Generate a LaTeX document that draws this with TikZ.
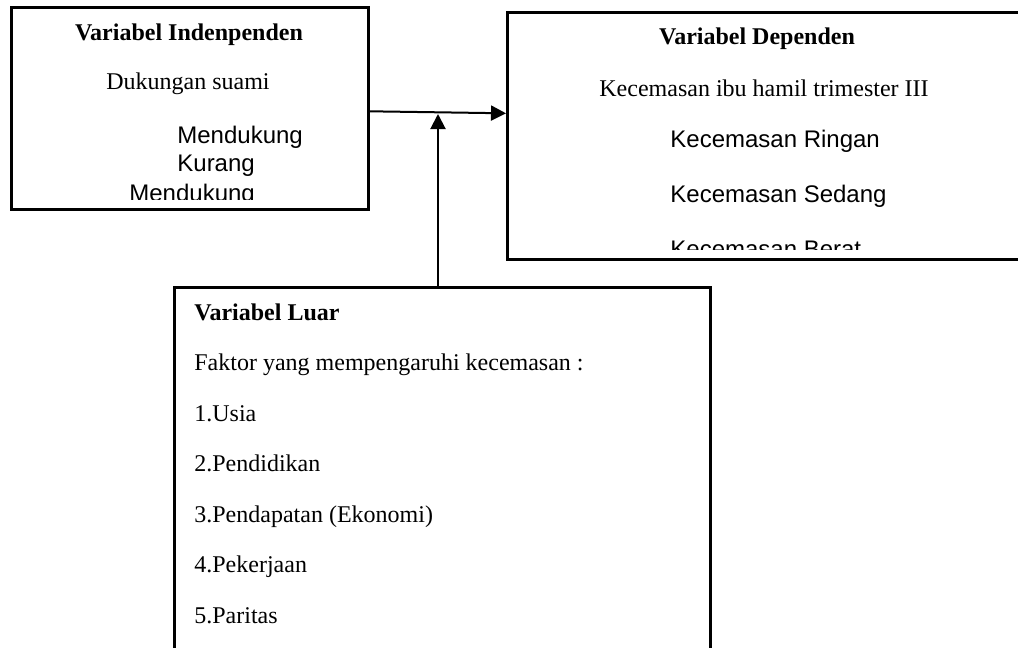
\documentclass[tikz,border=0pt]{standalone}
\usepackage{fontspec}
\setmainfont{Liberation Serif}
\setsansfont{Liberation Sans}
\usetikzlibrary{positioning,arrows.meta}

\begin{document}
\begin{tikzpicture}[x=0.5pt, y=-0.5pt,
  every node/.style={font=\fontsize{12}{14}\selectfont},
  box/.style={draw, line width=1.3pt, rectangle, inner sep=0pt, anchor=north west},
  head/.style={font=\fontsize{12}{14}\selectfont\bfseries, anchor=base, inner sep=0pt},
  txt/.style={anchor=base, inner sep=0pt},
  sanstxt/.style={font=\fontsize{12}{14}\selectfont\sffamily, anchor=base west, inner sep=0pt},
  link/.style={line width=1pt, -{Triangle[length=7.5pt, width=7.5pt]}}]
\clip (0,0) rectangle (1018,648);
% the three boxes
\node[box, minimum width=178.5pt, minimum height=101pt] (indep) at (10,6) {};
\node[box, minimum width=300pt, minimum height=123.5pt] (dep) at (506,11) {};
\node[box, minimum width=268pt, minimum height=210pt] (luar) at (173,286) {};
% variabel independen
\node[head] (indephead) at (189,40) {Variabel Indenpenden};
\node[txt] (suami) at (188,90) {Dukungan suami};
\node[sanstxt] (dukung) at (177,143) {Mendukung};
\node[sanstxt] (kurang) at (177,171) {Kurang};
\begin{scope}
  \clip (indep.north west) rectangle ([yshift=5.5pt]indep.south east);
  \node[sanstxt] (kurangdukung) at (129,201) {Mendukung};
\end{scope}
% variabel dependen
\node[head] (dephead) at (757,44) {Variabel Dependen};
\node[txt] (ibu) at (764,96) {Kecemasan ibu hamil trimester III};
\node[sanstxt] (ringan) at (670,147) {Kecemasan Ringan};
\node[sanstxt] (sedang) at (670,202) {Kecemasan Sedang};
\begin{scope}
  \clip (dep.north west) rectangle ([yshift=5.5pt]dep.south east);
  \node[sanstxt] (berat) at (670,257) {Kecemasan Berat};
\end{scope}
% variabel luar
\node[head, anchor=base west] (luarhead) at (194,320) {Variabel Luar};
\node[txt, anchor=base west] (faktor) at (194,370.5) {Faktor yang mempengaruhi kecemasan :};
\node[txt, anchor=base west] (usia) at (194,421) {1.Usia};
\node[txt, anchor=base west] (pendidikan) at (194,471.5) {2.Pendidikan};
\node[txt, anchor=base west] (ekonomi) at (194,522) {3.Pendapatan (Ekonomi)};
\node[txt, anchor=base west] (pekerjaan) at (194,572.5) {4.Pekerjaan};
\node[txt, anchor=base west] (paritas) at (194,623) {5.Paritas};
% arrows
\coordinate (meet) at (438,114);
\draw[link] ([yshift=-1.5pt]indep.east) -- ([yshift=11.25pt]dep.west);
\draw[link] (meet |- luar.north) -- (meet);
\end{tikzpicture}
\end{document}
